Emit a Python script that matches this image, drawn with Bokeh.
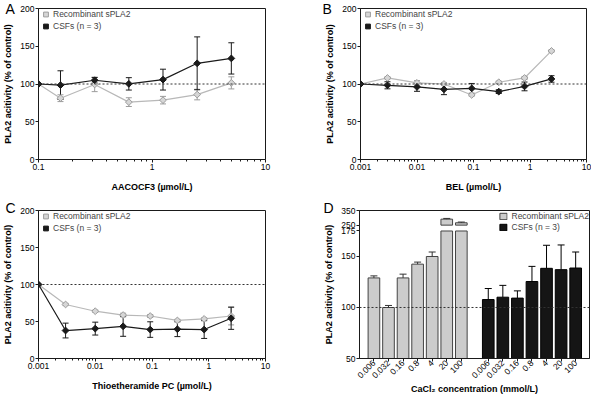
import math
from bokeh.plotting import figure
from bokeh.models import (ColumnDataSource, Whisker, TeeHead, Span, Legend, LegendItem,
                          FixedTicker)
from bokeh.layouts import column, row
from bokeh.embed import file_html
from bokeh.resources import INLINE

# ---------------- data ----------------
a_conc = [0.1, 0.15625, 0.3125, 0.625, 1.25, 2.5, 5]
a_rec = [100, 81.2, 99.4, 76.0, 78.6, 86.0, 101.5]
a_rec_err = [0, 4.5, 9.5, 5.8, 5.0, 7.0, 8.0]
a_csf = [100, 98.5, 105.0, 100.2, 105.8, 127.4, 133.9]
a_csf_err = [0, 19.0, 3.7, 8.2, 13.8, 35.0, 20.7]

b_conc = [0.001, 0.003, 0.01, 0.03, 0.093, 0.28, 0.8, 2.4]
b_rec = [100, 108, 101.5, 100, 85.5, 102.3, 108, 143.8]
b_rec_err = [0, 1.5, 3.0, 2.0, 1.5, 1.5, 2.0, 1.5]
b_csf = [100, 98.3, 96.1, 92.9, 94.2, 89.9, 96.8, 106.7]
b_csf_err = [0, 4.7, 5.8, 7.0, 6.5, 2.5, 5.8, 4.3]

c_conc = [0.001, 0.003, 0.01, 0.031, 0.093, 0.28, 0.83, 2.48]
c_rec = [100, 73.0, 63.9, 58.7, 57.4, 51.4, 53.5, 57.4]
c_rec_err = [0, 1.5, 1.5, 2.5, 2.0, 1.5, 1.5, 12.0]
c_csf = [100, 37.8, 40.4, 43.5, 39.1, 39.6, 39.1, 54.4]
c_csf_err = [0, 10.0, 8.7, 13.5, 10.5, 10.0, 12.0, 15.0]

d_cats = ["0.006", "0.032", "0.16", "0.8", "4", "20", "100"]
d_rec = [129, 100, 129, 142.5, 150, 290.8, 266]
d_rec_err = [2.0, 2.0, 3.7, 2.0, 4.4, 5.0, 5.0]
d_csf = [107.8, 110.1, 109.2, 125.5, 138.4, 137.1, 138.7]
d_csf_err = [10.8, 11.6, 7.1, 14.8, 22.6, 24.2, 15.7]

y_ticks = [0, 50, 100, 150, 200]
series_names = ["Recombinant sPLA2", "CSFs (n = 3)"]

# ---------------- style ----------------
FONT = "Liberation Sans"
INK = "#1a1a1a"
REC_LINE = "#b8b8b8"
REC_FILL = "#d6d6d6"
REC_EDGE = "#9c9c9c"
TICK_SIZE = "8.5px"
TITLE_SIZE = "9px"


def style_axes(p, xlabel, ylabel):
    for ax in (p.xaxis[0], p.yaxis[0]):
        ax.axis_line_color = INK
        ax.major_tick_line_color = INK
        ax.minor_tick_line_color = INK
        ax.major_tick_out = 3
        ax.major_tick_in = 0
        ax.minor_tick_out = 2
        ax.minor_tick_in = 0
        ax.major_label_text_font = FONT
        ax.major_label_text_font_size = TICK_SIZE
        ax.major_label_text_color = "black"
        ax.major_label_standoff = 1
        ax.axis_label_text_font = FONT
        ax.axis_label_text_font_size = TITLE_SIZE
        ax.axis_label_text_font_style = "bold"
        ax.axis_label_text_color = "black"
    p.xaxis[0].axis_label = xlabel
    p.yaxis[0].axis_label = ylabel
    p.yaxis[0].axis_label_standoff = 4
    p.xaxis[0].axis_label_standoff = 9
    p.yaxis[0].minor_tick_line_color = None


def base_fig(width, height, x_range, y_range, x_type, left, right, top, bottom):
    p = figure(width=width, height=height, x_range=x_range, y_range=y_range,
               x_axis_type=x_type, output_backend="svg", toolbar_location=None,
               min_border_left=left, min_border_right=right,
               min_border_top=top, min_border_bottom=bottom)
    p.grid.visible = False
    p.outline_line_color = INK
    p.outline_line_width = 1
    p.background_fill_color = "white"
    p.border_fill_color = "white"
    return p


def letter(p, txt, offset, standoff):
    t = p.title
    t.text = txt
    t.align = "left"
    t.vertical_align = "bottom"
    t.offset = offset
    t.standoff = standoff
    t.text_font = FONT
    t.text_font_size = "14px"
    t.text_font_style = "normal"
    t.text_color = "black"


def line_panel(p, x, rec, rec_err, csf, csf_err, decades):
    p.add_layout(Span(location=100, dimension="width", line_color="#333333",
                      line_dash="2 2", line_width=1))
    srcs = []
    for yv, ev in ((rec, rec_err), (csf, csf_err)):
        srcs.append(ColumnDataSource(dict(x=x, y=yv,
                                          lo=[v - e for v, e in zip(yv, ev)],
                                          hi=[v + e for v, e in zip(yv, ev)])))
    for src, col in ((srcs[0], REC_EDGE), (srcs[1], INK)):
        p.add_layout(Whisker(source=src, base="x", upper="hi", lower="lo",
                             dimension="height", line_color=col, line_width=1,
                             upper_head=TeeHead(size=6, line_color=col, line_width=1),
                             lower_head=TeeHead(size=6, line_color=col, line_width=1)))
    p.line("x", "y", source=srcs[0], line_color=REC_LINE, line_width=1.2)
    p.line("x", "y", source=srcs[1], line_color=INK, line_width=1.2)
    r1 = p.scatter("x", "y", source=srcs[0], marker="square", angle=math.pi / 4, size=4.8,
                   fill_color=REC_FILL, line_color=REC_EDGE, line_width=1)
    r2 = p.scatter("x", "y", source=srcs[1], marker="square", angle=math.pi / 4, size=4.8,
                   fill_color=INK, line_color=INK, line_width=1)
    leg = Legend(items=[LegendItem(label=series_names[0], renderers=[r1]),
                        LegendItem(label=series_names[1], renderers=[r2])],
                 location="top_left", margin=0, padding=1, spacing=-2,
                 glyph_width=15, glyph_height=12, label_standoff=0, label_height=10,
                 label_text_font=FONT, label_text_font_size="8.5px",
                 background_fill_alpha=0, border_line_color=None)
    p.add_layout(leg)
    majors = [10.0 ** k for k in decades]
    minors = [m * 10.0 ** k for k in decades[:-1] for m in range(2, 10)]
    p.xaxis[0].ticker = FixedTicker(ticks=majors, minor_ticks=minors)
    p.xaxis[0].major_label_overrides = {t: ("%g" % t) for t in majors}
    p.yaxis[0].ticker = FixedTicker(ticks=y_ticks)


YL = "PLA2 acitivity (% of control)"

# ---------------- panel A ----------------
pA = base_fig(292, 197, (0.1, 10), (0, 200), "log", 33, 27, 8, 38)
style_axes(pA, "AACOCF3 (\u00b5mol/L)", YL)
line_panel(pA, a_conc, a_rec, a_rec_err, a_csf, a_csf_err, [-1, 0, 1])
letter(pA, "A", -33, -17)

# ---------------- panel B ----------------
pB = base_fig(299, 197, (0.001, 10), (0, 200), "log", 68, 5, 8, 38)
style_axes(pB, "BEL (\u00b5mol/L)", YL)
line_panel(pB, b_conc, b_rec, b_rec_err, b_csf, b_csf_err, [-3, -2, -1, 0, 1])
letter(pB, "B", -38, -17)

# ---------------- panel C ----------------
pC = base_fig(292, 199, (0.001, 10), (0, 200), "log", 33, 27, 13, 35)
style_axes(pC, "Thioetheramide PC (\u00b5mol/L)", YL)
line_panel(pC, c_conc, c_rec, c_rec_err, c_csf, c_csf_err, [-3, -2, -1, 0, 1])
letter(pC, "C", -33, -10)

# ---------------- panel D (broken y axis) ----------------
D_LO, D_HI, D_GAP, D_K, D_TOP, D_BASE = 175, 250, 5.75, 0.1434, 350, 50


def brk(v):
    return v if v <= D_LO else D_LO + D_GAP + (v - D_HI) * D_K


n = len(d_cats)
GROUP_OFFSET = 7.85
x_rec = [float(i) for i in range(n)]
x_csf = [i + GROUP_OFFSET for i in range(n)]

pD = base_fig(299, 199, (-0.99, 14.8), (D_BASE, brk(D_TOP)), "linear", 67, 2, 13, 35)
style_axes(pD, "CaCl\u2082 concentration (mmol/L)", YL)
pD.add_layout(Span(location=100, dimension="width", line_color="#333333",
                   line_dash="2 2", line_width=1))

legend_rs = []
for xs, vals, errs, fill, edge, ecol in ((x_rec, d_rec, d_rec_err, "#cccccc", "#444444", "#333333"),
                                          (x_csf, d_csf, d_csf_err, "#151515", "#000000", "#000000")):
    low = ColumnDataSource(dict(x=xs, top=[min(v, D_LO) for v in vals]))
    r = pD.vbar(x="x", top="top", bottom=D_BASE, width=0.8, source=low,
                fill_color=fill, line_color=edge, line_width=1)
    legend_rs.append(r)
    up_x = [x for x, v in zip(xs, vals) if v > D_HI]
    up_t = [brk(v) for v in vals if v > D_HI]
    if up_x:
        up = ColumnDataSource(dict(x=up_x, top=up_t))
        pD.vbar(x="x", top="top", bottom=brk(D_HI), width=0.8, source=up,
                fill_color=fill, line_color=edge, line_width=1)
    es = ColumnDataSource(dict(x=xs, lo=[brk(v) for v in vals],
                               hi=[brk(v + e) for v, e in zip(vals, errs)]))
    pD.add_layout(Whisker(source=es, base="x", upper="hi", lower="lo", dimension="height",
                          line_color=ecol, line_width=1, level="glyph",
                          upper_head=TeeHead(size=7, line_color=ecol, line_width=1),
                          lower_head=None))

legD = Legend(items=[LegendItem(label=series_names[0], renderers=[legend_rs[0]]),
                     LegendItem(label=series_names[1], renderers=[legend_rs[1]])],
              location="top_right", margin=0, padding=1, spacing=0,
              glyph_width=9, glyph_height=8, label_standoff=4, label_height=11,
              label_text_font=FONT, label_text_font_size="8.5px",
              background_fill_alpha=0, border_line_color=None)
pD.add_layout(legD)

d_ticks = x_rec + x_csf
pD.xaxis[0].ticker = FixedTicker(ticks=d_ticks, minor_ticks=[])
pD.xaxis[0].major_label_overrides = {t: lab for t, lab in zip(d_ticks, d_cats + d_cats)}
pD.xaxis[0].major_label_orientation = math.pi / 4
pD.xaxis[0].major_label_standoff = 0
pD.xaxis[0].axis_label_standoff = 0
yt_vals = [50, 100, 150, 175, 250, 350]
yt = [brk(v) for v in yt_vals]
pD.yaxis[0].ticker = FixedTicker(ticks=yt, minor_ticks=[])
pD.yaxis[0].major_label_overrides = {t: str(v) for t, v in zip(yt, yt_vals)}
letter(pD, "D", -36, -10)

layout = column(row(pA, pB), row(pC, pD))
open("out.html", "w").write(file_html(layout, INLINE))
